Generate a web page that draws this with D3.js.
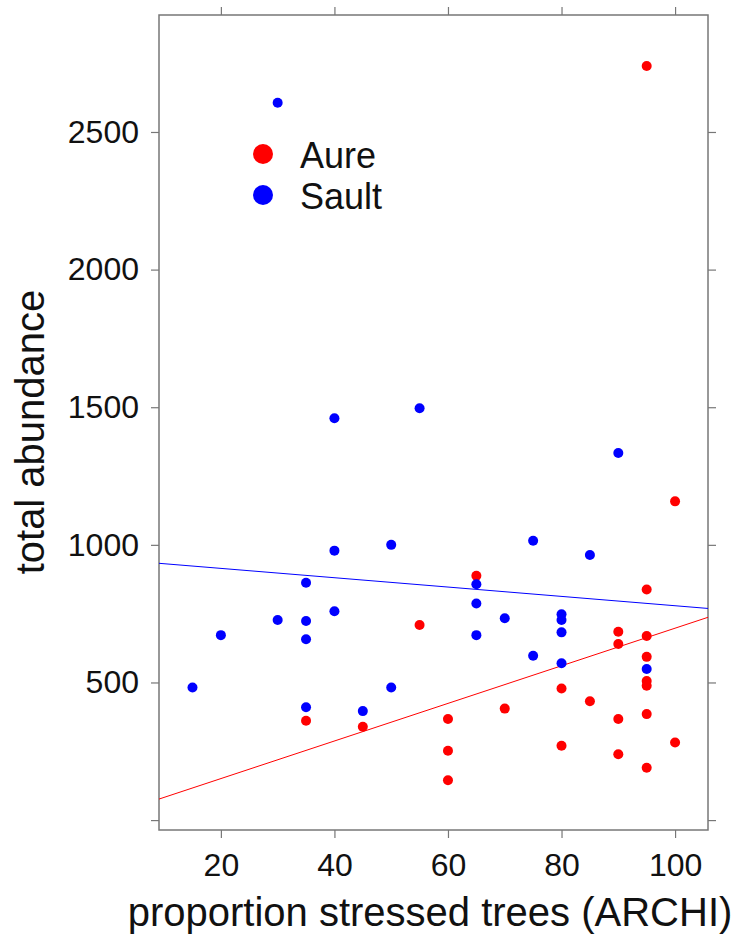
<!DOCTYPE html>
<html>
<head>
<meta charset="utf-8">
<script src="https://cdn.jsdelivr.net/npm/d3@7"></script>
<style>
  body { margin: 0; background: #fff; }
  svg text { font-family: "Liberation Sans", Arial, sans-serif; fill: #111; }
</style>
</head>
<body>
<div id="chartdiv"></div>
<script>
// proportion stressed trees (x) and total abundance (y), per site
var aureX = [95, 100, 65, 95, 55, 35, 45, 90, 90, 95, 95, 95, 95, 80, 85, 70, 60, 90, 95, 60, 80, 100, 90, 95, 60];
var aureY = [2740, 1158, 888, 838, 709, 361, 339, 684, 640, 669, 593, 505, 488, 478, 432, 405, 367, 367, 385, 252, 270, 282, 239, 190, 145];

var saultX = [30, 40, 55, 90, 40, 50, 75, 85, 35, 65, 65, 40, 30, 35, 70, 80, 80, 80, 20, 65, 35, 75, 80, 95, 15, 50, 35, 45];
var saultY = [2606, 1460, 1496, 1334, 979, 1000, 1015, 963, 862, 857, 787, 759, 727, 723, 733, 748, 727, 682, 672, 672, 657, 597, 570, 549, 482, 482, 410, 396];

// fitted lines (intercept, slope)
var groups = ["Aure", "Sault"];
var groupColors = ["#ff0000", "#0000ff"];
var fitIntercept = [14.2, 948.4];
var fitSlope = [6.83, -1.696];

var xTicks = [20, 40, 60, 80, 100];
var yTicks = [0, 500, 1000, 1500, 2000, 2500];

var xLabel = "proportion stressed trees (ARCHI)";
var yLabel = "total abundance";

var W = 740, H = 936;
var box = {left: 159, right: 708, top: 15, bottom: 830};

var svg = d3.select("#chartdiv").append("svg")
    .attr("width", W)
    .attr("height", H);

var xScale = d3.scaleLinear().domain([9.1, 105.8]).range([box.left, box.right]);
var yScale = d3.scaleLinear().domain([-36, 2925]).range([box.bottom, box.top]);

// axes, lattice style: ticks on all four sides, labels only left/bottom
var xAxis = d3.axisBottom(xScale).tickValues(xTicks).tickSize(8).tickSizeOuter(0).tickPadding(15);
var yAxis = d3.axisLeft(yScale).tickValues(yTicks).tickSize(8).tickSizeOuter(0).tickPadding(12)
    .tickFormat(function(d) { return d === 0 ? "" : d; });
var xAxisTop = d3.axisTop(xScale).tickValues(xTicks).tickSize(8).tickSizeOuter(0).tickFormat("");
var yAxisRight = d3.axisRight(yScale).tickValues(yTicks).tickSize(8).tickSizeOuter(0).tickFormat("");

function styleAxis(g) {
    g.select(".domain").remove();
    g.selectAll(".tick line").attr("stroke", "#777").attr("stroke-width", 1.2);
    g.selectAll(".tick text").style("font-size", "32px").attr("fill", "#1a1a1a");
}

svg.append("g").attr("transform", "translate(0," + box.bottom + ")").call(xAxis).call(styleAxis);
svg.append("g").attr("transform", "translate(" + box.left + ",0)").call(yAxis).call(styleAxis);
svg.append("g").attr("transform", "translate(0," + box.top + ")").call(xAxisTop).call(styleAxis);
svg.append("g").attr("transform", "translate(" + box.right + ",0)").call(yAxisRight).call(styleAxis);

svg.append("rect")
    .attr("x", box.left)
    .attr("y", box.top)
    .attr("width", box.right - box.left)
    .attr("height", box.bottom - box.top)
    .attr("fill", "none")
    .attr("stroke", "#777")
    .attr("stroke-width", 1.5);

// regression lines across the whole panel
var xDom = xScale.domain();
groups.forEach(function(g, i) {
    svg.append("line")
        .attr("x1", xScale(xDom[0]))
        .attr("y1", yScale(fitIntercept[i] + fitSlope[i] * xDom[0]))
        .attr("x2", xScale(xDom[1]))
        .attr("y2", yScale(fitIntercept[i] + fitSlope[i] * xDom[1]))
        .attr("stroke", groupColors[i])
        .attr("stroke-width", 1);
});

// points, Aure first then Sault on top
var series = [
    {xs: aureX, ys: aureY, color: groupColors[0]},
    {xs: saultX, ys: saultY, color: groupColors[1]}
];
series.forEach(function(s) {
    svg.append("g")
        .selectAll("circle")
        .data(d3.range(s.xs.length))
        .enter()
        .append("circle")
        .attr("cx", function(i) { return xScale(s.xs[i]); })
        .attr("cy", function(i) { return yScale(s.ys[i]); })
        .attr("r", 5)
        .attr("fill", s.color);
});

// legend (spacing kept a touch wider than the font so labels don't collide)
var legend = svg.append("g").attr("transform", "translate(263,154)");
groups.forEach(function(g, i) {
    legend.append("circle")
        .attr("cx", 0)
        .attr("cy", i * 41)
        .attr("r", 10)
        .attr("fill", groupColors[i]);
    legend.append("text")
        .attr("x", 37)
        .attr("y", i * 41 + 14)
        .style("font-size", "36px")
        .text(g);
});

// axis titles
svg.append("text")
    .attr("x", 430)
    .attr("y", 926)
    .style("text-anchor", "middle")
    .style("font-size", "40px")
    .text(xLabel);

svg.append("text")
    .attr("transform", "translate(44,432) rotate(-90)")
    .style("text-anchor", "middle")
    .style("font-size", "40px")
    .text(yLabel);
</script>
</body>
</html>
